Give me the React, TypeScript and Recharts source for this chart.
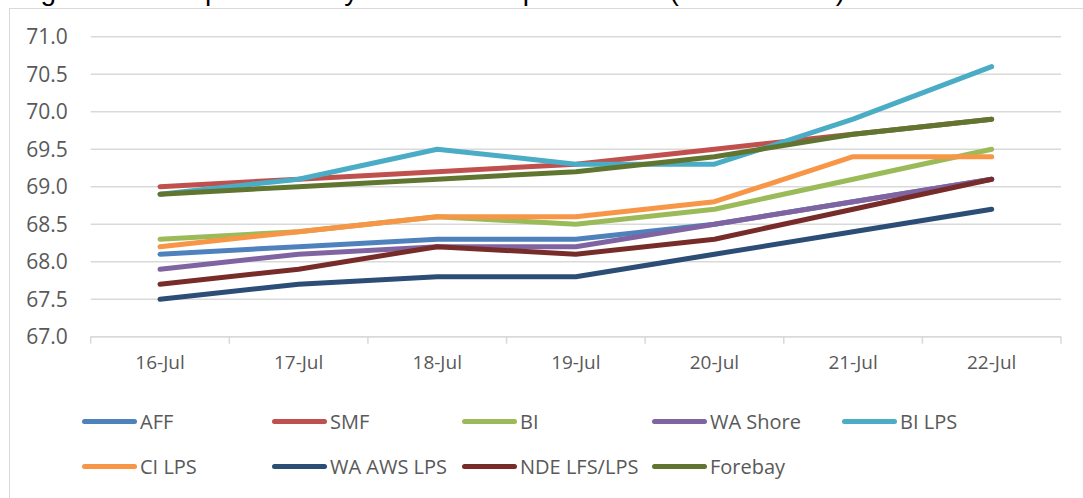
import React from 'react';
import { LineChart, Line, XAxis, YAxis, CartesianGrid } from 'recharts';

const categories = ['16-Jul', '17-Jul', '18-Jul', '19-Jul', '20-Jul', '21-Jul', '22-Jul'];
const yTicks = [67, 67.5, 68, 68.5, 69, 69.5, 70, 70.5, 71];

const aff = [68.1, 68.2, 68.3, 68.3, 68.5, 68.8, 69.1];
const smf = [69.0, 69.1, 69.2, 69.3, 69.5, 69.7, 69.9];
const bi = [68.3, 68.4, 68.6, 68.5, 68.7, 69.1, 69.5];
const waShore = [67.9, 68.1, 68.2, 68.2, 68.5, 68.8, 69.1];
const biLps = [68.9, 69.1, 69.5, 69.3, 69.3, 69.9, 70.6];
const ciLps = [68.2, 68.4, 68.6, 68.6, 68.8, 69.4, 69.4];
const waAwsLps = [67.5, 67.7, 67.8, 67.8, 68.1, 68.4, 68.7];
const ndeLfsLps = [67.7, 67.9, 68.2, 68.1, 68.3, 68.7, 69.1];
const forebay = [68.9, 69.0, 69.1, 69.2, 69.4, 69.7, 69.9];

const seriesNames = ['AFF', 'SMF', 'BI', 'WA Shore', 'BI LPS', 'CI LPS', 'WA AWS LPS', 'NDE LFS/LPS', 'Forebay'];
const seriesValues = [aff, smf, bi, waShore, biLps, ciLps, waAwsLps, ndeLfsLps, forebay];
const seriesColors = ['#4F81BD', '#C0504D', '#9BBB59', '#8064A2', '#4BACC6', '#F79646', '#2C4D75', '#772C2A', '#5F7530'];

const data = categories.map((c, i) => {
  const row: Record<string, number | string> = { pos: i + 0.5, label: c };
  seriesNames.forEach((n, k) => {
    row[n] = seriesValues[k][i];
  });
  return row;
});

const xTickValues: number[] = [];
for (let i = 0; i <= categories.length * 2; i++) xTickValues.push(i / 2);

const FONT = '"Open Sans", "Noto Sans", sans-serif';
const TEXT = '#595959';
const GRID = '#d9d9d9';

const XTick = (props: any) => {
  const { x, y, payload } = props;
  const v = payload.value as number;
  if (Number.isInteger(v)) {
    return <line x1={x} x2={x} y1={y} y2={y + 7} stroke={GRID} strokeWidth={1.5} />;
  }
  return (
    <text x={x} y={y + 32} textAnchor="middle" fill={TEXT} fontSize={19} fontFamily={FONT}>
      {categories[Math.floor(v)]}
    </text>
  );
};

export default function App() {
  return (
    <div style={{ position: 'absolute', left: 0, top: 0, width: 1083, height: 498, overflow: 'hidden', background: '#fff' }}>
      <svg width={1083} height={10} style={{ position: 'absolute', left: 0, top: 0 }}>
        <text x={13} y={0} fontSize={28} fontFamily='"Liberation Sans", Arial, sans-serif' fill="#000" textLength={832} lengthAdjust="spacing">
          Figure 4. Graph of Daily Water Temperatures (Fahrenheit)
        </text>
      </svg>
      <div style={{ position: 'absolute', left: 9, top: 8, width: 1200, height: 600, borderLeft: `1px solid ${GRID}`, borderTop: `1px solid ${GRID}` }} />
      <div style={{ position: 'absolute', left: 0, top: 0 }}>
        <LineChart width={1083} height={498} data={data} margin={{ top: 36.7, right: 22, left: 0, bottom: 131.3 }}>
          <CartesianGrid vertical={false} stroke={GRID} strokeWidth={1.5} />
          <XAxis
            dataKey="pos"
            type="number"
            domain={[0, categories.length]}
            ticks={xTickValues}
            interval={0}
            height={30}
            tickSize={0}
            tickMargin={0}
            tickLine={false}
            axisLine={{ stroke: GRID, strokeWidth: 1.5 }}
            tick={<XTick />}
          />
          <YAxis
            type="number"
            domain={[67, 71]}
            ticks={yTicks}
            interval={0}
            width={90.7}
            tickSize={0}
            tickMargin={23}
            axisLine={false}
            tickLine={false}
            tickFormatter={(v: number) => v.toFixed(1)}
            tick={{ fill: TEXT, fontSize: 21, fontFamily: FONT }}
          />
          {seriesNames.map((n, k) => (
            <Line
              key={n}
              dataKey={n}
              name={n}
              type="linear"
              stroke={seriesColors[k]}
              strokeWidth={5}
              strokeLinecap="round"
              strokeLinejoin="round"
              dot={false}
              activeDot={false}
              isAnimationActive={false}
            />
          ))}
        </LineChart>
      </div>
      {seriesNames.map((n, k) => {
        const col = k % 5;
        const row = Math.floor(k / 5);
        const cx = 82 + 190 * col;
        const cy = 421 + 45 * row;
        return (
          <div key={n} style={{ position: 'absolute', left: cx, top: cy - 15, height: 30, display: 'flex', alignItems: 'center', whiteSpace: 'nowrap' }}>
            <div style={{ width: 55, height: 5, borderRadius: 3, background: seriesColors[k] }} />
            <span style={{ marginLeft: 3, fontSize: 20, fontFamily: FONT, color: TEXT }}>{n}</span>
          </div>
        );
      })}
    </div>
  );
}
